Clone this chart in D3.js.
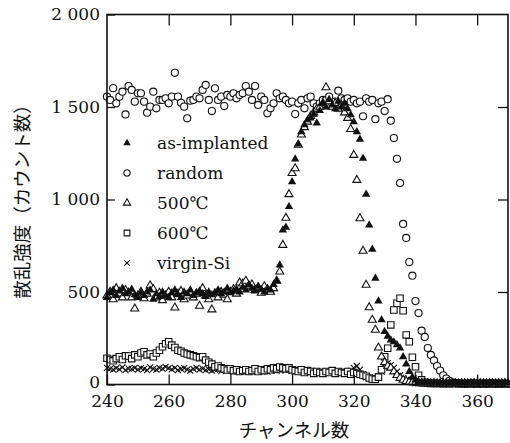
<!DOCTYPE html>
<html>
<head>
<meta charset="utf-8">
<script src="https://cdn.jsdelivr.net/npm/d3@7"></script>
<style>
  body { margin: 0; background: #fff; }
  svg text { fill: #111; }
</style>
</head>
<body>
<div id="chart"></div>
<script>
// channel numbers start at 240, one value per channel up to 370
const firstChannel = 240;

const randomCounts = [
  1556,1538,1602,1520,1556,1583,1460,1613,1592,1529,
  1574,1574,1529,1469,1502,1583,1493,1538,1538,1547,
  1520,1556,1685,1556,1523,1502,1439,1534,1538,1556,
  1547,1592,1619,1538,1478,1601,1538,1556,1505,1565,
  1556,1574,1547,1565,1574,1613,1583,1538,1613,1511,
  1556,1538,1466,1493,1520,1574,1547,1556,1538,1520,
  1529,1462,1520,1538,1493,1547,1556,1520,1502,1520,
  1538,1538,1556,1520,1529,1588,1547,1538,1547,1529,
  1538,1520,1529,1450,1547,1529,1538,1434,1520,1529,
  1478,1542,1426,1332,1220,1089,868,792,662,588,
  451,386,291,257,197,160,130,100,75,50,
  32,20,12,8,6,5,4,5,6,4,
  5,4,5,4,5,6,4,5,4,5,4
];

const asImplantedCounts = [
  470,495,510,480,505,520,490,500,515,485,
  470,495,480,500,510,460,490,475,500,480,
  470,495,510,485,470,500,490,510,480,495,
  505,490,475,500,485,495,510,490,500,520,
  495,505,515,500,525,510,540,520,505,530,
  515,500,520,510,540,560,646,835,850,961,
  1096,1219,1300,1366,1403,1430,1440,1460,1413,1480,
  1521,1500,1540,1510,1490,1530,1500,1520,1490,1457,
  1420,1366,1325,1222,1028,862,731,574,451,349,
  286,260,240,230,215,197,150,110,70,40,
  24,16,12,10,9,8,10,9,8,10,
  9,8,10,9,8,9,10,8,9,10,
  8,9,10,9,8,10,9,8,9,10,8
];

const anneal500Counts = [
  480,500,460,520,490,470,510,495,470,410,
  480,500,465,490,535,515,470,495,455,480,
  500,470,415,490,505,460,480,500,470,490,
  425,520,480,460,405,490,470,500,485,460,
  500,515,490,550,545,560,530,540,510,525,
  495,530,505,500,520,560,610,754,900,1028,
  1142,1168,1295,1350,1390,1420,1450,1470,1490,1500,
  1520,1606,1530,1500,1520,1490,1510,1470,1440,1380,
  1240,1105,898,722,538,417,349,295,199,150,
  120,100,90,70,50,35,25,18,14,12,
  10,8,6,5,5,4,5,4,5,4,
  4,5,4,5,4,5,4,5,4,5,
  4,5,4,5,4,5,4,5,4,5,4
];

const anneal600Counts = [
  142,135,128,140,150,135,155,154,140,160,
  150,170,177,160,165,150,170,185,204,220,
  231,213,200,185,180,170,165,160,155,150,
  145,150,132,120,110,96,100,90,85,78,
  85,75,80,70,75,80,70,75,85,70,
  80,75,85,80,90,85,95,90,85,90,
  80,75,70,80,65,75,70,60,70,65,
  60,70,65,75,60,70,65,60,70,55,
  65,60,55,50,45,35,30,28,40,80,
  150,196,322,403,439,466,399,268,231,147,
  96,50,25,12,8,6,5,6,5,4,
  5,4,5,6,4,5,4,5,4,5,
  4,5,4,5,4,5,4,5,4,5,4
];

const virginCounts = [
  90,85,80,88,82,92,78,86,84,90,
  80,88,85,78,92,84,80,90,86,95,
  88,82,90,78,85,88,80,75,84,90,
  80,86,78,82,75,80,85,72,80,76,
  82,70,78,75,80,72,78,70,76,80,
  72,78,70,75,80,74,78,82,76,80,
  74,70,76,72,68,74,70,66,72,68,
  64,70,66,72,62,68,64,70,66,75,
  90,100,80,55,40,30,25,30,45,70,
  95,115,105,90,70,50,35,25,18,12,
  8,6,5,4,5,4,5,4,5,4,
  4,5,4,5,4,5,4,5,4,5,
  4,5,4,5,4,5,4,5,4,5,4
];

const legendLabels = ['as-implanted', 'random', '500℃', '600℃', 'virgin-Si'];
const xTicks = [240, 260, 280, 300, 320, 340, 360];
const yTicks = [0, 500, 1000, 1500, 2000];

const width = 510;
const height = 443;
const plot = { left: 107, right: 508, top: 14.5, bottom: 384.5 };

const svg = d3.select('#chart').append('svg')
  .attr('width', width)
  .attr('height', height);

const x = d3.scaleLinear().domain([240, 370]).range([plot.left, plot.right]);
const y = d3.scaleLinear().domain([0, 2000]).range([plot.bottom, plot.top]);

// x mark symbol (d3.symbolTimes is not in every v7 build)
const timesSymbol = {
  draw(context, size) {
    const r = Math.sqrt(size) / 2;
    context.moveTo(-r, -r); context.lineTo(r, r);
    context.moveTo(r, -r); context.lineTo(-r, r);
  }
};

const styles = {
  'as-implanted': { type: d3.symbolTriangle, size: 30, fill: '#111', stroke: 'none' },
  'random':       { type: d3.symbolCircle,   size: 40, fill: '#fff', stroke: '#111' },
  '500℃':        { type: d3.symbolTriangle, size: 28, fill: '#fff', stroke: '#111' },
  '600℃':        { type: d3.symbolSquare,   size: 42, fill: '#fff', stroke: '#111' },
  'virgin-Si':    { type: timesSymbol,       size: 36, fill: 'none', stroke: '#111' }
};

const series = [
  { name: 'random', values: randomCounts },
  { name: 'virgin-Si', values: virginCounts },
  { name: '600℃', values: anneal600Counts },
  { name: '500℃', values: anneal500Counts },
  { name: 'as-implanted', values: asImplantedCounts }
];

const gData = svg.append('g');
series.forEach(s => {
  const st = styles[s.name];
  const sym = d3.symbol().type(st.type).size(st.size);
  gData.append('g')
    .selectAll('path')
    .data(s.values.map((v, i) => ({ ch: firstChannel + i, v: v })))
    .enter()
    .append('path')
    .attr('d', sym)
    .attr('transform', d => 'translate(' + x(d.ch) + ',' + y(d.v) + ')')
    .style('fill', st.fill)
    .style('stroke', st.stroke)
    .style('stroke-width', 1.1);
});

const fmt = d => d >= 1000 ? d3.format(',')(d).replace(',', ' ') : String(d);
const tickFont = '"DejaVu Serif", "Liberation Serif", serif';

// bottom axis, ticks inward
svg.append('g')
  .attr('transform', 'translate(0,' + plot.bottom + ')')
  .call(d3.axisBottom(x).tickValues(xTicks).tickSizeInner(-10).tickSizeOuter(0).tickPadding(10));

// left axis
const yAxis = svg.append('g')
  .attr('transform', 'translate(' + plot.left + ',0)')
  .call(d3.axisLeft(y).tickValues(yTicks).tickFormat(fmt).tickSizeInner(-8).tickSizeOuter(0).tickPadding(7));

// lift the "0" a little so it clears the "240" below it
yAxis.selectAll('.tick')
  .filter(d => d === 0)
  .select('text')
  .attr('dy', '0.2em');

// top axis and right axis: ticks only
svg.append('g')
  .attr('transform', 'translate(0,' + plot.top + ')')
  .call(d3.axisTop(x).tickValues(xTicks.slice(1)).tickSizeInner(-11).tickSizeOuter(0).tickFormat(''));
svg.append('g')
  .attr('transform', 'translate(' + plot.right + ',0)')
  .call(d3.axisRight(y).tickValues([500, 1000, 1500]).tickSizeInner(-10).tickSizeOuter(0).tickFormat(''));

svg.selectAll('.domain').remove();
svg.selectAll('.tick line').style('stroke', '#111').style('stroke-width', 1.3);
svg.selectAll('.tick text')
  .style('font-family', tickFont)
  .style('font-size', '17px')
  .style('fill', '#111');

// frame
svg.append('rect')
  .attr('x', plot.left)
  .attr('y', plot.top)
  .attr('width', plot.right - plot.left)
  .attr('height', plot.bottom - plot.top)
  .style('fill', 'none')
  .style('stroke', '#111')
  .style('stroke-width', 1.6);

// legend
const legend = svg.append('g');
legendLabels.forEach((name, i) => {
  const st = styles[name];
  const ly = 143 + i * 30;
  legend.append('path')
    .attr('d', d3.symbol().type(st.type).size(st.size * 0.8)())
    .attr('transform', 'translate(127,' + ly + ')')
    .style('fill', st.fill)
    .style('stroke', st.stroke)
    .style('stroke-width', 1.1);
  legend.append('text')
    .attr('x', 157)
    .attr('y', ly)
    .attr('dy', '0.35em')
    .style('font-family', '"DejaVu Serif", "Noto Sans CJK JP", serif')
    .style('font-size', '17px')
    .text(name);
});

// axis titles
svg.append('text')
  .attr('x', 294)
  .attr('y', 429)
  .attr('text-anchor', 'middle')
  .attr('dominant-baseline', 'central')
  .style('font-family', '"Noto Sans CJK JP", sans-serif')
  .style('font-size', '18.5px')
  .text('チャンネル数');

svg.append('text')
  .attr('transform', 'translate(21,197) rotate(-90)')
  .attr('text-anchor', 'middle')
  .attr('dominant-baseline', 'central')
  .style('font-family', '"Noto Sans CJK JP", sans-serif')
  .style('font-size', '18.5px')
  .text('散乱強度（カウント数）');
</script>
</body>
</html>
